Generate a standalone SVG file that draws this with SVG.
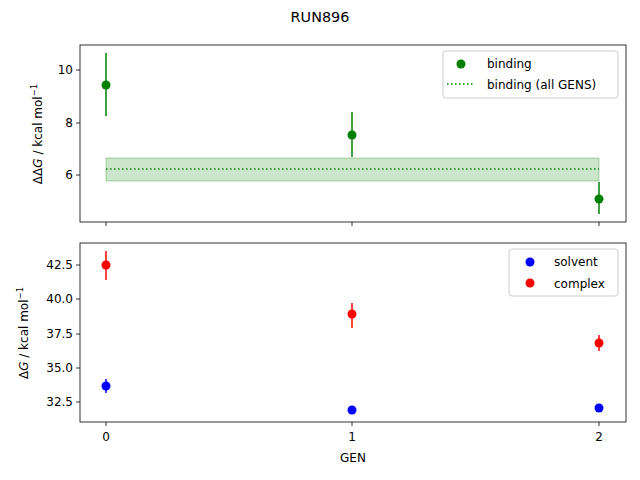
<svg xmlns="http://www.w3.org/2000/svg" width="640" height="480" viewBox="0 0 640 480">
<style>
text{font-family:"DejaVu Sans",sans-serif;font-size:12px;fill:#000}
.ax{fill:none;stroke:#000;stroke-width:0.8}
.tk{stroke:#000;stroke-width:0.8}
.g{fill:#008000}.ge{stroke:#008000;stroke-width:1.5}
.r{fill:#ff0000}.re{stroke:#ff0000;stroke-width:1.5}
.b{fill:#0000ff}.be{stroke:#0000ff;stroke-width:1.5}
.leg{fill:#fff;fill-opacity:0.8;stroke:#ccc;stroke-width:1}
</style>
<rect width="640" height="480" fill="#fff"/>
<text x="320" y="22" text-anchor="middle" style="font-size:14.4px">RUN896</text>
<g id="top">
<rect x="106" y="158" width="493" height="23" fill="#008000" fill-opacity="0.2" stroke="#008000" stroke-opacity="0.3"/>
<line x1="106" y1="169" x2="599" y2="169" stroke="#008000" stroke-width="1.5" stroke-dasharray="1.5,2.5"/>
<line class="ge" x1="106" y1="53" x2="106" y2="116"/><circle class="g" cx="106" cy="85" r="4.5"/>
<line class="ge" x1="352" y1="112" x2="352" y2="157"/><circle class="g" cx="352" cy="135" r="4.5"/>
<line class="ge" x1="599" y1="182" x2="599" y2="214"/><circle class="g" cx="599" cy="199" r="4.5"/>
<rect class="ax" x="80" y="45" width="546" height="177"/>
<g class="tk"><line x1="76" y1="70" x2="80" y2="70"/><line x1="76" y1="123" x2="80" y2="123"/><line x1="76" y1="175" x2="80" y2="175"/>
<line x1="106" y1="222" x2="106" y2="226"/><line x1="352" y1="222" x2="352" y2="226"/><line x1="599" y1="222" x2="599" y2="226"/></g>
<text x="73" y="74" text-anchor="end">10</text><text x="73" y="127" text-anchor="end">8</text><text x="73" y="179" text-anchor="end">6</text>
<text transform="translate(42,134) rotate(-90)" text-anchor="middle">ΔΔ<tspan font-style="italic">G</tspan> / kcal mol<tspan dy="-5" style="font-size:8.5px">−1</tspan></text>
<rect class="leg" x="443" y="51" width="175" height="47" rx="3"/>
<circle class="g" cx="461" cy="64" r="4.5"/><text x="487" y="68">binding</text>
<line x1="447" y1="84" x2="475" y2="84" stroke="#008000" stroke-width="1.5" stroke-dasharray="1.5,2.5"/><text x="487" y="89">binding (all GENS)</text>
</g>
<g id="bottom">
<line class="re" x1="106" y1="251" x2="106" y2="280"/><circle class="r" cx="106" cy="265" r="4.5"/>
<line class="re" x1="352" y1="303" x2="352" y2="328"/><circle class="r" cx="352" cy="314" r="4.5"/>
<line class="re" x1="599" y1="335" x2="599" y2="351"/><circle class="r" cx="599" cy="343" r="4.5"/>
<line class="be" x1="106" y1="379" x2="106" y2="393"/><circle class="b" cx="106" cy="386" r="4.5"/>
<circle class="b" cx="352" cy="410" r="4.5"/>
<circle class="b" cx="599" cy="408" r="4.5"/>
<rect class="ax" x="80" y="243" width="546" height="179"/>
<g class="tk"><line x1="76" y1="265" x2="80" y2="265"/><line x1="76" y1="299" x2="80" y2="299"/><line x1="76" y1="334" x2="80" y2="334"/><line x1="76" y1="368" x2="80" y2="368"/><line x1="76" y1="402" x2="80" y2="402"/>
<line x1="106" y1="422" x2="106" y2="426"/><line x1="352" y1="422" x2="352" y2="426"/><line x1="599" y1="422" x2="599" y2="426"/></g>
<text x="73" y="269" text-anchor="end">42.5</text><text x="73" y="303" text-anchor="end">40.0</text><text x="73" y="338" text-anchor="end">37.5</text><text x="73" y="372" text-anchor="end">35.0</text><text x="73" y="406" text-anchor="end">32.5</text>
<text x="106" y="441" text-anchor="middle">0</text><text x="352" y="441" text-anchor="middle">1</text><text x="599" y="441" text-anchor="middle">2</text>
<text x="353" y="462" text-anchor="middle">GEN</text>
<text transform="translate(28,333) rotate(-90)" text-anchor="middle">Δ<tspan font-style="italic">G</tspan> / kcal mol<tspan dy="-5" style="font-size:8.5px">−1</tspan></text>
<rect class="leg" x="509" y="249" width="109" height="47" rx="3"/>
<circle class="b" cx="530" cy="262" r="4.5"/><text x="554" y="266">solvent</text>
<circle class="r" cx="530" cy="283" r="4.5"/><text x="554" y="288">complex</text>
</g>
</svg>
